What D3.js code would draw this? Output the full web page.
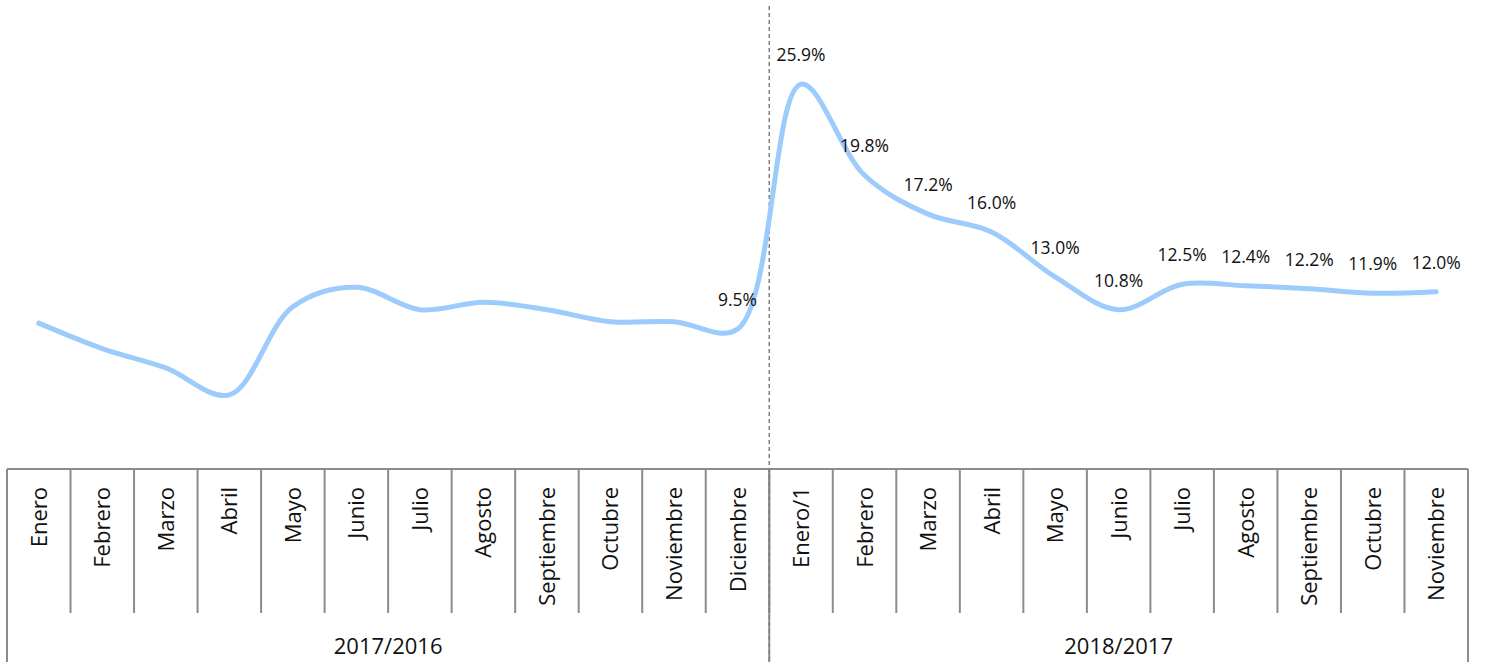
<!DOCTYPE html>
<html>
<head>
<meta charset="utf-8">
<script src="https://cdn.jsdelivr.net/npm/d3@7"></script>
<style>
  body { margin: 0; background: #fff; }
  text { font-family: "Open Sans", sans-serif; fill: #111; }
</style>
</head>
<body>
<div id="chart"></div>
<script>
// categories and values
const groups = ["2017/2016", "2018/2017"];
const months2017 = ["Enero", "Febrero", "Marzo", "Abril", "Mayo", "Junio", "Julio",
  "Agosto", "Septiembre", "Octubre", "Noviembre", "Diciembre"];
const months2018 = ["Enero/1", "Febrero", "Marzo", "Abril", "Mayo", "Junio", "Julio",
  "Agosto", "Septiembre", "Octubre", "Noviembre"];
const values2017 = [9.9, 8.2, 6.9, 5.1, 11.0, 12.3, 10.8, 11.3, 10.8, 10.0, 10.0, 9.5];
const values2018 = [25.9, 19.8, 17.2, 16.0, 13.0, 10.8, 12.5, 12.4, 12.2, 11.9, 12.0];
const labelled2017 = ["Diciembre"];

const width = 1494, height = 662;
const margin = { top: 8, left: 7, right: 26, axis: 469 };

// one table from the arrays
const data = [
  ...months2017.map((m, i) => ({ group: groups[0], month: m, value: values2017[i], label: labelled2017.includes(m) })),
  ...months2018.map((m, i) => ({ group: groups[1], month: m, value: values2018[i], label: true }))
];
data.forEach(d => d.key = d.group + "|" + d.month);

const svg = d3.select("#chart").append("svg")
  .attr("width", width)
  .attr("height", height);

const xScale = d3.scaleBand()
  .domain(data.map(d => d.key))
  .range([margin.left, width - margin.right]);

const yScale = d3.scaleLinear()
  .domain([0, 31])
  .range([471, margin.top]);

const bw = xScale.bandwidth();
const axisColor = "#8c8c8c";

// category axis box
const axis = svg.append("g").attr("class", "axis");

axis.append("line")
  .attr("x1", margin.left).attr("x2", width - margin.right)
  .attr("y1", margin.axis).attr("y2", margin.axis)
  .attr("stroke", axisColor).attr("stroke-width", 2);

// group boundaries (full height) and month ticks
const groupEdges = groups.map(g => xScale(data.find(d => d.group === g).key));
groupEdges.push(width - margin.right);

axis.selectAll(".tick")
  .data(data.slice(1))
  .join("line")
  .attr("class", "tick")
  .attr("x1", d => xScale(d.key)).attr("x2", d => xScale(d.key))
  .attr("y1", margin.axis).attr("y2", 613)
  .attr("stroke", axisColor).attr("stroke-width", 2);

axis.selectAll(".edge")
  .data(groupEdges)
  .join("line")
  .attr("class", "edge")
  .attr("x1", d => d).attr("x2", d => d)
  .attr("y1", margin.axis).attr("y2", height)
  .attr("stroke", axisColor).attr("stroke-width", 2);

// month labels
axis.selectAll(".month")
  .data(data)
  .join("text")
  .attr("class", "month")
  .attr("transform", d => `translate(${xScale(d.key) + bw / 2 + 8},487) rotate(-90)`)
  .attr("text-anchor", "end")
  .style("font-size", "22px")
  .text(d => d.month);

// group labels
axis.selectAll(".group")
  .data(groups)
  .join("text")
  .attr("class", "group")
  .attr("x", (g, i) => (groupEdges[i] + groupEdges[i + 1]) / 2)
  .attr("y", 654)
  .attr("text-anchor", "middle")
  .style("font-size", "22px")
  .text(g => g);

// dashed divider
svg.append("line")
  .attr("x1", groupEdges[1]).attr("x2", groupEdges[1])
  .attr("y1", 6).attr("y2", height)
  .attr("stroke", "#7f7f7f")
  .attr("stroke-width", 1.5)
  .attr("stroke-dasharray", "4,3");

// smoothed line
const line = d3.line()
  .x(d => xScale(d.key) + bw / 2)
  .y(d => yScale(d.value))
  .curve(d3.curveCatmullRom.alpha(0.5));

svg.append("path")
  .datum(data)
  .attr("fill", "none")
  .attr("stroke", "#9dcbfb")
  .attr("stroke-width", 5)
  .attr("stroke-linecap", "round")
  .attr("stroke-linejoin", "round")
  .attr("d", line);

// data labels
svg.selectAll(".label")
  .data(data.filter(d => d.label))
  .join("text")
  .attr("class", "label")
  .attr("x", d => xScale(d.key) + bw / 2)
  .attr("y", d => yScale(d.value) - 23)
  .attr("text-anchor", "middle")
  .style("font-size", "17.5px")
  .text(d => d3.format(".1f")(d.value) + "%");
</script>
</body>
</html>
